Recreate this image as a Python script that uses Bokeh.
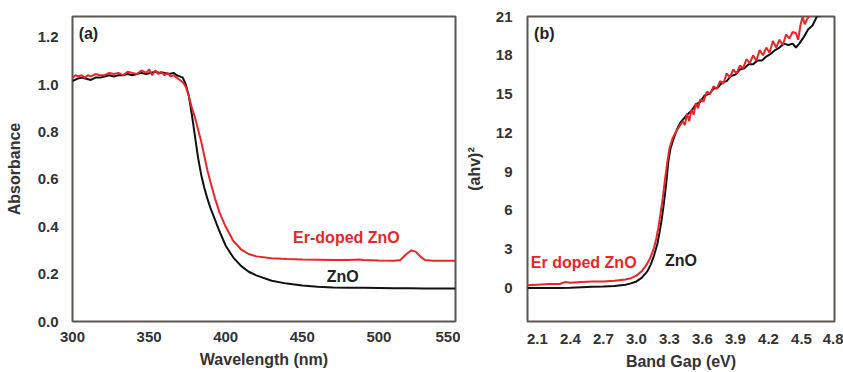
from bokeh.plotting import figure
from bokeh.layouts import row
from bokeh.models import Range1d, FixedTicker, Label
from bokeh.embed import file_html
from bokeh.resources import INLINE

# ---------------- Panel (a) data ----------------
wl_zno = [300, 303, 306, 309, 312, 315, 318, 321, 324, 327, 330, 333, 336, 339, 342, 345, 348,
          351, 354, 357, 360, 363, 366, 368, 370, 372, 374, 376, 378, 380, 382, 384, 386, 388,
          390, 393, 396, 400, 405, 410, 415, 420, 430, 440, 450, 460, 470, 480, 490, 500, 510,
          520, 530, 540, 550]
abs_zno = [1.015, 1.025, 1.03, 1.025, 1.02, 1.03, 1.03, 1.035, 1.04, 1.035, 1.04, 1.04, 1.045,
           1.04, 1.045, 1.05, 1.045, 1.05, 1.055, 1.05, 1.05, 1.045, 1.05, 1.04, 1.035, 1.03,
           1.0, 0.95, 0.87, 0.78, 0.69, 0.62, 0.565, 0.52, 0.48, 0.43, 0.38, 0.32, 0.27, 0.235,
           0.21, 0.195, 0.172, 0.16, 0.152, 0.147, 0.144, 0.143, 0.142, 0.141, 0.14, 0.14,
           0.139, 0.139, 0.139]

wl_er = [300, 302, 304, 306, 308, 310, 312, 315, 318, 321, 324, 327, 330, 333, 336, 339, 342,
         345, 348, 350, 352, 354, 356, 358, 360, 362, 364, 366, 368, 370, 372, 374, 376, 378,
         380, 382, 384, 386, 388, 390, 393, 396, 400, 405, 410, 415, 420, 430, 440, 450, 460,
         470, 480, 487, 490, 500, 510, 514, 518, 521, 524, 527, 530, 535, 540, 550]
abs_er = [1.03, 1.04, 1.035, 1.04, 1.03, 1.04, 1.035, 1.045, 1.04, 1.04, 1.05, 1.045, 1.05,
          1.04, 1.055, 1.05, 1.045, 1.06, 1.05, 1.065, 1.04, 1.06, 1.045, 1.055, 1.04, 1.05,
          1.035, 1.04, 1.03, 1.02, 1.01, 0.99, 0.95, 0.90, 0.86, 0.81, 0.76, 0.70, 0.64, 0.59,
          0.52, 0.46, 0.40, 0.34, 0.305, 0.285, 0.275, 0.267, 0.264, 0.262, 0.261, 0.26, 0.26,
          0.262, 0.26, 0.258, 0.257, 0.26, 0.285, 0.30, 0.295, 0.275, 0.26, 0.257, 0.257, 0.257]

# ---------------- Panel (b) data ----------------
e_zno = [2.01, 2.1, 2.2, 2.3, 2.4, 2.5, 2.6, 2.7, 2.8, 2.9, 2.95, 3.0, 3.05, 3.1, 3.13, 3.16,
         3.19, 3.21, 3.23, 3.25, 3.27, 3.29, 3.31, 3.34, 3.37, 3.40, 3.43, 3.46, 3.50, 3.54,
         3.58, 3.62, 3.66, 3.70, 3.74, 3.78, 3.82, 3.86, 3.90, 3.94, 3.98, 4.02, 4.06, 4.10,
         4.14, 4.18, 4.22, 4.26, 4.30, 4.34, 4.38, 4.42, 4.45, 4.48, 4.52, 4.56, 4.60, 4.64,
         4.68, 4.72]
ahv_zno = [0.0, 0.0, 0.0, 0.0, 0.02, 0.05, 0.08, 0.1, 0.15, 0.25, 0.35, 0.5, 0.8, 1.3, 1.8,
           2.5, 3.4, 4.3, 5.3, 6.6, 8.0, 9.8, 10.8, 11.6, 12.3, 12.8, 13.1, 13.4, 13.7, 14.2,
           14.4, 14.9, 15.0, 15.4, 15.5, 15.9, 16.0, 16.4, 16.5, 16.9, 17.0, 17.3, 17.3, 17.6,
           17.6, 17.9, 18.1, 18.4, 18.6, 18.9, 18.8, 18.9, 18.6, 18.9, 19.4, 20.0, 20.3, 21.0,
           21.1, 21.2]

e_er = [2.01, 2.1, 2.2, 2.3, 2.35, 2.4, 2.5, 2.6, 2.7, 2.8, 2.9, 2.95, 3.0, 3.05, 3.1, 3.13,
        3.16, 3.18, 3.20, 3.22, 3.24, 3.26, 3.28, 3.30, 3.33, 3.36, 3.39, 3.42, 3.44, 3.46,
        3.48, 3.50, 3.52, 3.54, 3.56, 3.58, 3.61, 3.64, 3.67, 3.70, 3.73, 3.76, 3.79, 3.82,
        3.85, 3.88, 3.91, 3.94, 3.97, 4.00, 4.03, 4.06, 4.09, 4.12, 4.15, 4.18, 4.21, 4.24,
        4.27, 4.30, 4.33, 4.36, 4.39, 4.42, 4.45, 4.47, 4.49, 4.51, 4.53, 4.55, 4.57, 4.59]
ahv_er = [0.2, 0.25, 0.3, 0.3, 0.45, 0.4, 0.45, 0.5, 0.5, 0.55, 0.65, 0.75, 0.95, 1.3, 1.9,
          2.4, 3.1, 3.8, 4.7, 5.8, 7.0, 8.4, 9.7, 10.8, 11.6, 12.1, 12.5, 12.9, 12.6, 13.5,
          12.9, 13.8, 13.4, 14.3, 13.9, 14.6, 14.4, 15.2, 15.0, 15.6, 15.4, 16.0, 15.8, 16.6,
          16.3, 16.9, 16.6, 17.2, 17.0, 17.7, 17.4, 18.0, 17.6, 18.4, 18.0, 18.6, 18.2, 19.1,
          18.6, 19.2, 18.8, 19.6, 19.3, 19.8, 19.7, 19.2, 20.3, 21.0, 20.4, 20.8, 21.0, 21.2]

xticks_a = [300, 350, 400, 450, 500, 550]
yticks_a = [0.0, 0.2, 0.4, 0.6, 0.8, 1.0, 1.2]
xticks_b = [2.1, 2.4, 2.7, 3.0, 3.3, 3.6, 3.9, 4.2, 4.5, 4.8]
yticks_b = [0, 3, 6, 9, 12, 15, 18, 21]

RED = "#e8262a"
BLACK = "#111111"
FONT = "Liberation Sans"
TICKC = "#333333"


def style(p):
    p.outline_line_color = "#5a5652"
    p.outline_line_width = 2
    p.xgrid.visible = False
    p.ygrid.visible = False
    for ax in (p.xaxis[0], p.yaxis[0]):
        ax.axis_line_color = None
        ax.major_tick_line_color = None
        ax.minor_tick_line_color = None
        ax.major_label_text_font = FONT
        ax.major_label_text_font_style = "bold"
        ax.major_label_text_font_size = "15px"
        ax.major_label_text_color = TICKC
        ax.axis_label_text_font = FONT
        ax.axis_label_text_font_style = "bold"
        ax.axis_label_text_font_size = "16px"
        ax.axis_label_text_color = TICKC
    p.background_fill_color = "white"
    p.border_fill_color = "white"


# ---------------- Panel (a) ----------------
pa = figure(width=460, height=372, output_backend="svg", toolbar_location=None,
            x_range=Range1d(300, 550), y_range=Range1d(0, 1.288),
            min_border_left=72, min_border_right=5, min_border_top=16, min_border_bottom=47)
style(pa)
pa.xaxis.ticker = FixedTicker(ticks=xticks_a)
pa.yaxis.ticker = FixedTicker(ticks=yticks_a)
pa.yaxis.formatter.use_scientific = False
from bokeh.models import CustomJSTickFormatter
pa.yaxis.formatter = CustomJSTickFormatter(code="return tick.toFixed(1);")
pa.xaxis.axis_label = "Wavelength (nm)"
pa.yaxis.axis_label = "Absorbance"
pa.xaxis.major_label_standoff = 4
pa.yaxis.major_label_standoff = 8
pa.xaxis.axis_label_standoff = 6
pa.yaxis.axis_label_standoff = 12
pa.line(wl_zno, abs_zno, line_color=BLACK, line_width=2)
pa.line(wl_er, abs_er, line_color=RED, line_width=2)
pa.add_layout(Label(x=304, y=1.217, text="(a)", text_font=FONT, text_font_style="bold",
                    text_font_size="16px", text_color="#222222", text_baseline="middle"))
pa.add_layout(Label(x=444, y=0.355, text="Er-doped ZnO", text_font=FONT, text_font_style="bold",
                    text_font_size="16px", text_color=RED, text_baseline="middle"))
pa.add_layout(Label(x=466, y=0.19, text="ZnO", text_font=FONT, text_font_style="bold",
                    text_font_size="16px", text_color="#222222", text_baseline="middle"))

# ---------------- Panel (b) ----------------
pb = figure(width=383, height=372, output_backend="svg", toolbar_location=None,
            x_range=Range1d(2.01, 4.8), y_range=Range1d(-2.6, 21),
            min_border_left=67, min_border_right=9, min_border_top=15, min_border_bottom=47)
style(pb)
pb.xaxis.ticker = FixedTicker(ticks=xticks_b)
pb.yaxis.ticker = FixedTicker(ticks=yticks_b)
pb.xaxis.formatter = CustomJSTickFormatter(code="return tick.toFixed(1);")
pb.xaxis.axis_label = "Band Gap (eV)"
pb.yaxis.axis_label = "(ahv)²"
pb.xaxis.major_label_standoff = 6
pb.yaxis.major_label_standoff = 9
pb.xaxis.axis_label_standoff = 6
pb.yaxis.axis_label_standoff = 10
pb.line(e_zno, ahv_zno, line_color=BLACK, line_width=2)
pb.line(e_er, ahv_er, line_color=RED, line_width=2)
pb.add_layout(Label(x=2.07, y=19.7, text="(b)", text_font=FONT, text_font_style="bold",
                    text_font_size="16px", text_color="#222222", text_baseline="middle"))
pb.add_layout(Label(x=2.04, y=1.98, text="Er doped ZnO", text_font=FONT, text_font_style="bold",
                    text_font_size="16px", text_color=RED, text_baseline="middle"))
pb.add_layout(Label(x=3.26, y=2.1, text="ZnO", text_font=FONT, text_font_style="bold",
                    text_font_size="16px", text_color="#222222", text_baseline="middle"))

layout = row(pa, pb, spacing=0)
open("out.html", "w").write(file_html(layout, INLINE))
